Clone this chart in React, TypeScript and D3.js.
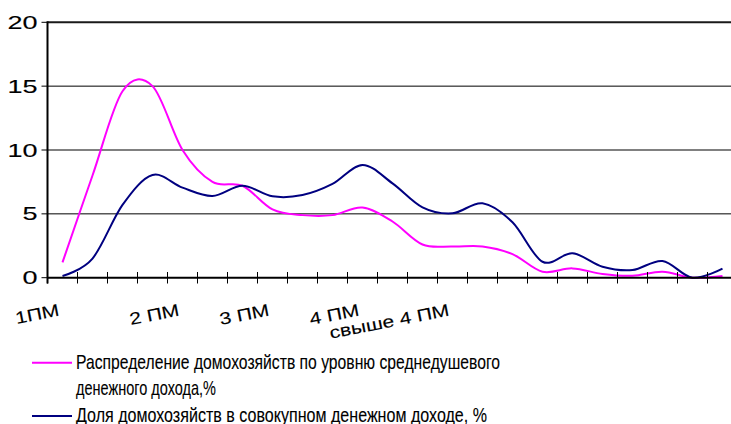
import React from "react";
import * as d3 from "d3";

const categories: string[] = [
  "1ПМ", "", "", "", "2 ПМ", "", "", "3 ПМ", "", "", "4 ПМ", "", "", "свыше 4 ПМ",
  "", "", "", "", "", "", "", "", "",
];

const distribution: number[] = [
  1.2, 8.0, 14.6, 15.0, 10.0, 7.5, 7.2, 5.35, 4.9, 4.9, 5.5, 4.4, 2.6, 2.45, 2.45,
  1.85, 0.47, 0.73, 0.29, 0.15, 0.47, 0.0, 0.13,
];

const incomeShare: number[] = [
  0.13, 1.5, 5.7, 8.04, 7.05, 6.4, 7.2, 6.37, 6.47, 7.34, 8.83, 7.39, 5.51, 5.04, 5.83,
  4.34, 1.25, 1.91, 0.86, 0.6, 1.31, 0.0, 0.71,
];

const yTicks: number[] = [0, 5, 10, 15, 20];

const legendLabels: string[][] = [
  ["Распределение домохозяйств по уровню среднедушевого", "денежного дохода,%"],
  ["Доля домохозяйств в совокупном денежном доходе, %"],
];

const FONT = "'Liberation Sans', Arial, sans-serif";

export default function App() {
  const W = 731;
  const H = 424;
  const left = 47.5;
  const right = 737.5;
  const top = 22.3;
  const bottom = 277.7;

  const x = d3
    .scaleBand<number>()
    .domain(categories.map((_, i) => i))
    .range([left, right])
    .padding(0);
  const cx = (i: number) => (x(i) as number) + x.bandwidth() / 2;
  const y = d3.scaleLinear().domain([0, 20]).range([bottom, top]);

  const line = d3
    .line<number>()
    .x((_, i) => cx(i))
    .y((d) => y(d))
    .curve(d3.curveCardinal.tension(0));

  const series = [
    { values: distribution, color: "#FF00FF" },
    { values: incomeShare, color: "#000080" },
  ];

  const boundaries = categories.map((_, i) => x(i) as number).concat([right]);

  const gridStyle = (v: number) => {
    if (v === 20) return { stroke: "#1a1a1a", width: 2 };
    if (v === 10) return { stroke: "#808080", width: 2 };
    return { stroke: "#000", width: 1 };
  };

  const textInk = { fill: "#000", stroke: "#000", strokeWidth: 0.12 };

  return (
    <svg
      width={W}
      height={H}
      style={{ position: "absolute", left: 0, top: 0, background: "#fff" }}
      fontFamily={FONT}
    >
      <rect x={0} y={0} width={W} height={H} fill="#fff" />
      {yTicks
        .filter((v) => v > 0)
        .map((v) => {
          const s = gridStyle(v);
          return (
            <line
              key={"g" + v}
              x1={left}
              x2={W}
              y1={y(v)}
              y2={y(v)}
              stroke={s.stroke}
              strokeWidth={s.width}
            />
          );
        })}
      {yTicks.map((v) => (
        <g key={"y" + v}>
          <line x1={41.5} x2={left} y1={y(v)} y2={y(v)} stroke="#000" strokeWidth={1} />
          <text
            transform={`translate(37.5,${y(v) + 6.5}) scale(1.5,1)`}
            textAnchor="end"
            fontSize={18}
            {...textInk}
          >
            {v}
          </text>
        </g>
      ))}
      {series.map((s, k) => (
        <path
          key={"s" + k}
          d={line(s.values) || ""}
          fill="none"
          stroke={s.color}
          strokeWidth={2}
          strokeLinejoin="round"
        />
      ))}
      <line x1={left} x2={left} y1={top - 1} y2={283.5} stroke="#000" strokeWidth={2} />
      <line x1={left} x2={W} y1={bottom} y2={bottom} stroke="#000" strokeWidth={2} />
      {boundaries.map((b, i) => (
        <line key={"t" + i} x1={b} x2={b} y1={272} y2={283.5} stroke="#000" strokeWidth={1} />
      ))}
      {categories.map((c, i) =>
        c ? (
          <text
            key={"x" + i}
            transform={`translate(${cx(i) - 2.5},315.5) rotate(-11) scale(1.24,1)`}
            textAnchor="end"
            fontSize={17}
            {...textInk}
          >
            {c}
          </text>
        ) : null
      )}
      <line x1={32} x2={72} y1={362.7} y2={362.7} stroke="#FF00FF" strokeWidth={2} />
      <text x={76} y={369} fontSize={21} textLength={424} lengthAdjust="spacingAndGlyphs" {...textInk}>
        {legendLabels[0][0]}
      </text>
      <text x={76} y={395} fontSize={21} textLength={140} lengthAdjust="spacingAndGlyphs" {...textInk}>
        {legendLabels[0][1]}
      </text>
      <line x1={32} x2={72} y1={416} y2={416} stroke="#000080" strokeWidth={2} />
      <text x={76} y={421.5} fontSize={21} textLength={411} lengthAdjust="spacingAndGlyphs" {...textInk}>
        {legendLabels[1][0]}
      </text>
    </svg>
  );
}
